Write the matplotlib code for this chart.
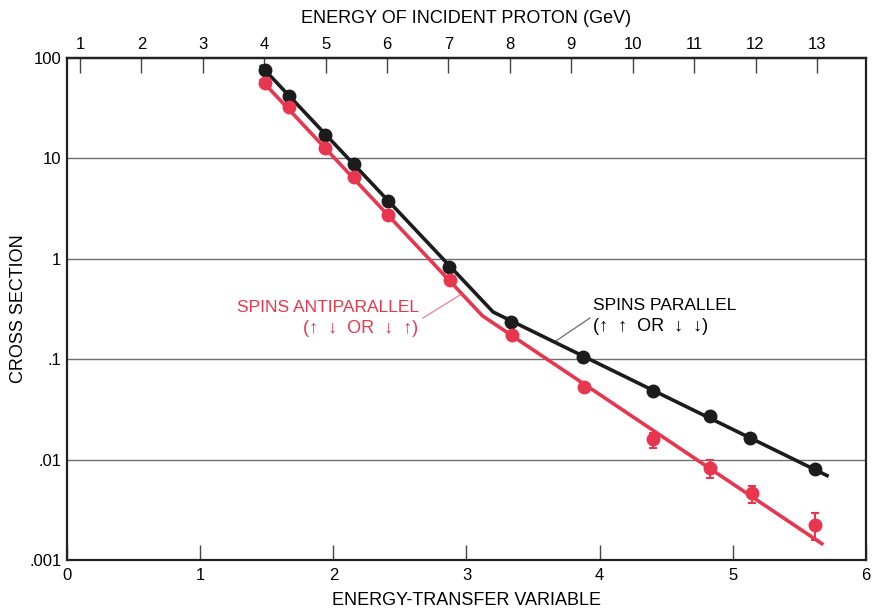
import numpy as np
import matplotlib
matplotlib.use('Agg')
import matplotlib.pyplot as plt

plt.rcParams['font.family'] = ['Liberation Sans', 'DejaVu Sans']

# measured points (energy-transfer variable, cross section)
xPar = [1.487, 1.667, 1.937, 2.155, 2.410, 2.869, 3.334, 3.875, 4.400, 4.828, 5.129, 5.617]
yPar = [75.9, 41.9, 17.1, 8.79, 3.76, 0.828, 0.235, 0.105, 0.0482, 0.0272, 0.0164, 0.00806]

xAnti = [1.487, 1.667, 1.937, 2.155, 2.410, 2.876, 3.342, 3.883, 4.400, 4.828, 5.144, 5.617]
yAnti = [56.4, 32.5, 12.7, 6.53, 2.73, 0.615, 0.174, 0.0528, 0.0160, 0.00824, 0.00465, 0.00223]

# error bars on the last antiparallel points (low, high)
errX = [4.400, 4.828, 5.144, 5.617]
errY = [0.0160, 0.00824, 0.00465, 0.00223]
errLo = [0.0131, 0.00656, 0.0037, 0.00158]
errHi = [0.0184, 0.0099, 0.00545, 0.00294]

# fitted curves (kinked lines)
fitParX = [1.45, 3.20, 5.72]
fitParY = [85, 0.295, 0.0068]
fitAntiX = [1.45, 3.12, 5.68]
fitAntiY = [62, 0.27, 0.00142]

# axis ticks
bottomTicks = [0, 1, 2, 3, 4, 5, 6]
yTicks = [0.001, 0.01, 0.1, 1, 10, 100]
yTickLabels = ['.001', '.01', '.1', '1', '10', '100']
topTicks = list(range(1, 14))

RED = '#e8364f'
BLACK = '#1c1c1c'

fig = plt.figure(figsize=(8.74, 6.09), dpi=100)
ax = fig.add_axes([0.0767, 0.0805, 0.9141, 0.8243])

ax.set_yscale('log')
ax.set_xlim(0, 6)
ax.set_ylim(0.001, 100)

for v in [0.01, 0.1, 1, 10]:
    ax.axhline(v, color='#6e6e6e', lw=1.0, zorder=1)

ax.plot(fitParX, fitParY, color=BLACK, lw=2.6, zorder=3, solid_capstyle='butt')
ax.plot(fitAntiX, fitAntiY, color=RED, lw=2.6, zorder=3, solid_capstyle='butt')
ax.plot(xPar, yPar, 'o', color=BLACK, ms=9, zorder=4)
ax.plot(xAnti, yAnti, 'o', color=RED, ms=9, zorder=4)

errY = np.array(errY)
ax.errorbar(errX, errY, yerr=[errY - np.array(errLo), np.array(errHi) - errY],
            fmt='none', ecolor=RED, elinewidth=1.5, capsize=3, capthick=1.5, zorder=4)

# labels with leader lines
ax.text(2.64, 0.3236, 'SPINS ANTIPARALLEL', ha='right', va='center', color=RED, fontsize=12.5)
ax.text(2.64, 0.200, '(\u2191  \u2193  OR  \u2193  \u2191)', ha='right', va='center', color=RED, fontsize=13)
ax.plot([2.673, 2.951], [0.257, 0.436], color='#e88a98', lw=1.0, zorder=2)
ax.text(3.95, 0.339, 'SPINS PARALLEL', ha='left', va='center', color='black', fontsize=12.5)
ax.text(3.95, 0.2094, '(\u2191  \u2191  OR  \u2193  \u2193)', ha='left', va='center', color='black', fontsize=13)
ax.plot([3.672, 3.927], [0.152, 0.257], color='#7a7a7a', lw=1.0, zorder=2)

ax.set_xticks(bottomTicks)
ax.set_yticks(yTicks)
ax.set_yticklabels(yTickLabels)
ax.minorticks_off()
ax.tick_params(axis='x', direction='in', length=11, width=1.0, labelsize=12, pad=6, color='#444444')
ax.tick_params(axis='y', length=0, labelsize=12, pad=4)
ax.set_xlabel('ENERGY-TRANSFER VARIABLE', fontsize=13, va='center')
ax.xaxis.set_label_coords(0.5, -0.08)
ax.set_ylabel('CROSS SECTION', fontsize=13, va='center')
ax.yaxis.set_label_coords(-0.061, 0.5)

for s in ax.spines.values():
    s.set_linewidth(1.6)
    s.set_color('#222222')

# top axis: incident proton energy (roughly linear with bottom scale)
def e2x(e):
    return 0.0976 + (np.asarray(e) - 1) * 0.4612

def x2e(x):
    return 1 + (np.asarray(x) - 0.0976) / 0.4612

top = ax.secondary_xaxis('top', functions=(x2e, e2x))
top.set_xticks(topTicks)
top.tick_params(direction='in', length=11, width=1.0, labelsize=12, pad=4, color='#444444')
top.spines['top'].set_linewidth(1.6)
fig.text(0.5338, 0.969, 'ENERGY OF INCIDENT PROTON (GeV)', ha='center', va='center', fontsize=13)

fig.savefig('out.png', dpi=100)
